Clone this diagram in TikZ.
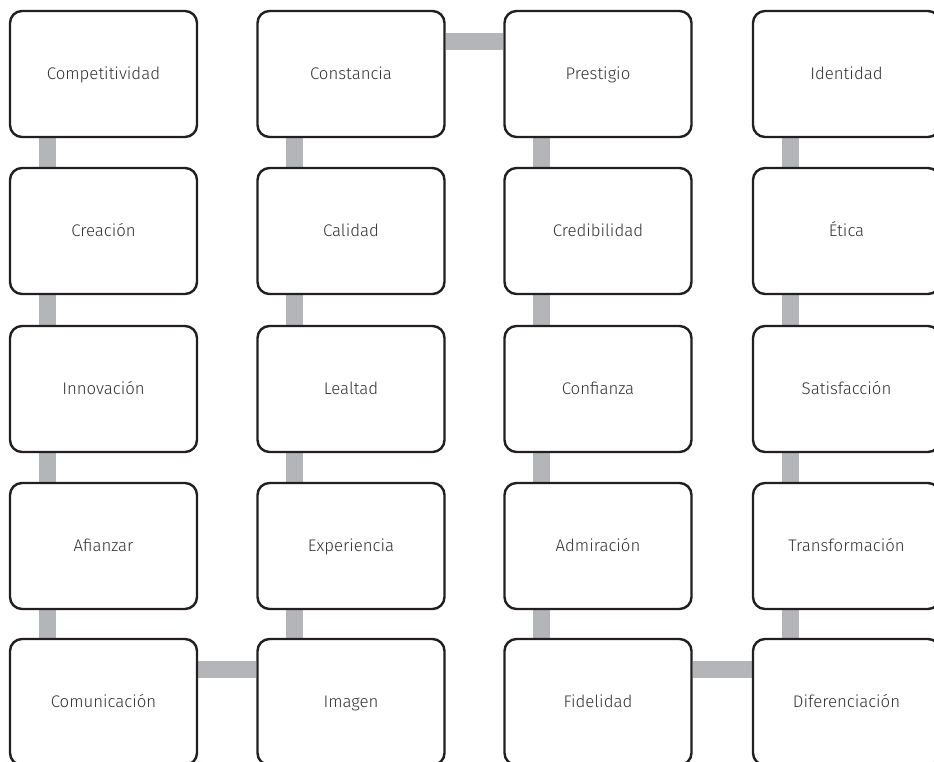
\documentclass[tikz,border=0pt]{standalone}
\usepackage{fontspec}
\setmainfont{Fira Sans Light}
\usetikzlibrary{backgrounds}
\definecolor{ink}{HTML}{231F20}
\definecolor{label}{HTML}{333335}
\definecolor{barGray}{HTML}{B4B5B8}
\tikzset{
  valuebox/.style={draw=ink,fill=white,line width=2.4pt,rounded corners=12pt,
    minimum width=187pt,minimum height=126pt,inner sep=0pt,
    text height=12pt,text depth=0pt,
    font=\fontsize{16.8}{20}\selectfont,text=label},
  link/.style={draw=barGray,line width=17pt}
}
\begin{document}
\begin{tikzpicture}[x=1pt,y=1pt]
  \useasboundingbox (0,0) rectangle (934,762);
  % column 1
  \node[valuebox] (competitividad) at (103.5,688) {Competitividad};
  \node[valuebox] (creacion)       at (103.5,531) {Creación};
  \node[valuebox] (innovacion)     at (103.5,373) {Innovación};
  \node[valuebox] (afianzar)       at (103.5,216) {Afianzar};
  \node[valuebox] (comunicacion)   at (103.5,60)  {Comunicación};
  % column 2
  \node[valuebox] (constancia)     at (351,688) {Constancia};
  \node[valuebox] (calidad)        at (351,531) {Calidad};
  \node[valuebox] (lealtad)        at (351,373) {Lealtad};
  \node[valuebox] (experiencia)    at (351,216) {Experiencia};
  \node[valuebox] (imagen)         at (351,60)  {Imagen};
  % column 3
  \node[valuebox] (prestigio)      at (598,688) {Prestigio};
  \node[valuebox] (credibilidad)   at (598,531) {Credibilidad};
  \node[valuebox] (confianza)      at (598,373) {Confianza};
  \node[valuebox] (admiracion)     at (598,216) {Admiración};
  \node[valuebox] (fidelidad)      at (598,60)  {Fidelidad};
  % column 4
  \node[valuebox] (identidad)      at (846.5,688) {Identidad};
  \node[valuebox] (etica)          at (846.5,531) {Ética};
  \node[valuebox] (satisfaccion)   at (846.5,373) {Satisfacción};
  \node[valuebox] (transformacion) at (846.5,216) {Transformación};
  \node[valuebox] (diferenciacion) at (846.5,60)  {Diferenciación};

  \begin{scope}[on background layer]
    % vertical links
    \foreach \a/\b in {competitividad/creacion,creacion/innovacion,innovacion/afianzar,afianzar/comunicacion,
                       constancia/calidad,calidad/lealtad,lealtad/experiencia,experiencia/imagen,
                       prestigio/credibilidad,credibilidad/confianza,confianza/admiracion,admiracion/fidelidad,
                       identidad/etica,etica/satisfaccion,satisfaccion/transformacion,transformacion/diferenciacion}
      \draw[link] ([xshift=38.5pt]\a.south west) -- ([xshift=38.5pt]\b.north west);
    % horizontal links
    \draw[link] ([yshift=-31.5pt]comunicacion.north east) -- ([yshift=-31.5pt]imagen.north west);
    \draw[link] ([yshift=-31.5pt]constancia.north east) -- ([yshift=-31.5pt]prestigio.north west);
    \draw[link] ([yshift=-31.5pt]fidelidad.north east) -- ([yshift=-31.5pt]diferenciacion.north west);
  \end{scope}
\end{tikzpicture}
\end{document}
